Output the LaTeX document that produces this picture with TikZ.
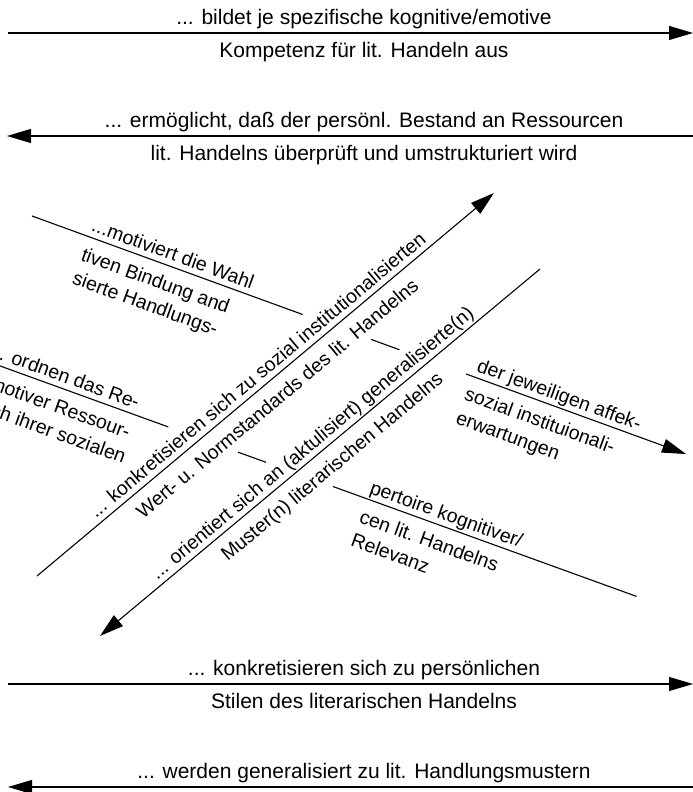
\documentclass[tikz,border=0pt]{standalone}
\usepackage{fontspec}
\setmainfont{Liberation Sans}
\usetikzlibrary{arrows.meta,calc}
\begin{document}
\begin{tikzpicture}[x=1pt,y=1pt,
  ln/.style={line width=1.1pt},
  arr/.style={ln,-{Triangle[length=24pt,width=14pt]}},
  rarr/.style={ln,{Triangle[length=24pt,width=14pt]}-},
  hlab/.style={inner sep=0pt,anchor=base,font=\fontsize{21}{25}\selectfont},
  dlab/.style={inner sep=0pt,anchor=base west,font=\fontsize{19.5}{25}\selectfont},
  mlab/.style={inner sep=0pt,anchor=base,font=\fontsize{19.5}{25}\selectfont}]
\useasboundingbox (0,0) rectangle (693,792);
\clip (0,0) rectangle (693,792);

% horizontal arrows
\coordinate (h1s) at (8,759);   \coordinate (h1e) at (693,759);
\coordinate (h2s) at (700,656); \coordinate (h2e) at (7,656);
\coordinate (h3s) at (8,108);   \coordinate (h3e) at (693,108);
\coordinate (h4s) at (700,5);   \coordinate (h4e) at (8,5);
\draw[arr] (h1s) -- (h1e);
\draw[arr] (h2s) -- (h2e);
\draw[arr] (h3s) -- (h3e);
\draw[arr] (h4s) -- (h4e);
\node[hlab] (t1a) at (364,767) {... bildet je spezifische kognitive/emotive};
\node[hlab] (t1b) at (364,734) {Kompetenz für lit. Handeln aus};
\node[hlab] (t2a) at (364,664) {... ermöglicht, daß der persönl. Bestand an Ressourcen};
\node[hlab] (t2b) at (364,631) {lit. Handelns überprüft und umstrukturiert wird};
\node[hlab] (t3a) at (364,116) {... konkretisieren sich zu persönlichen};
\node[hlab] (t3b) at (364,83) {Stilen des literarischen Handelns};
\node[hlab] (t4a) at (364,13) {... werden generalisiert zu lit. Handlungsmustern};

% broken line A
\coordinate (a1) at (32,576);
\coordinate (a2) at ($(a1)+(-20:288)$);
\coordinate (a3) at ($(a1)+(-20:361)$);
\coordinate (a4) at ($(a1)+(-20:391)$);
\coordinate (a5) at ($(a1)+(-20:462)$);
\coordinate (a6) at ($(a1)+(-20:696)$);
\draw[ln] (a1) -- (a2);
\draw[ln] (a3) -- (a4);
\draw[arr] (a5) -- (a6);
\begin{scope}[shift={(a1)},rotate=-20,transform shape]
\node[dlab] (la1) at (60,6) {...motiviert die Wahl};
\node[dlab] (la2) at (60,-25) {tiven Bindung and};
\node[dlab] (la3) at (60,-50) {sierte Handlungs-};
\node[dlab] (la4) at (470,6) {der jeweiligen affek-};
\node[dlab] (la5) at (468,-25) {sozial instituionali-};
\node[dlab] (la6) at (468,-50) {erwartungen};
\end{scope}

% broken line B
\coordinate (b0) at (0,426);
\coordinate (b1) at ($(b0)+(160:40)$);
\coordinate (b2) at ($(b0)+(-19.9:179)$);
\coordinate (b3) at ($(b0)+(-19.9:253)$);
\coordinate (b4) at ($(b0)+(-19.9:283)$);
\coordinate (b5) at ($(b0)+(-19.9:354)$);
\coordinate (b6) at ($(b0)+(-19.9:677)$);
\draw[ln] (b1) -- (b2);
\draw[ln] (b3) -- (b4);
\draw[ln] (b5) -- (b6);
\begin{scope}[shift={(b0)},rotate=-19.9,transform shape]
\node[dlab] (lb1) at (-15,6) {... ordnen das Re-};
\node[dlab] (lb2) at (-15,-25) {emotiver Ressour-};
\node[dlab] (lb3) at (-15,-50) {nach ihrer sozialen};
\node[dlab] (lb4) at (390,6) {pertoire kognitiver/};
\node[dlab] (lb5) at (390,-25) {cen lit. Handelns};
\node[dlab] (lb6) at (390,-50) {Relevanz};
\end{scope}

% diagonal arrow 1
\coordinate (d1s) at (37,216);
\coordinate (d1e) at (494,599);
\draw[arr] (d1s) -- (d1e);
\begin{scope}[shift={($(d1s)!0.5!(d1e)$)},rotate=39.96,transform shape]
\node[mlab] (ld1a) at (0,6) {... konkretisieren sich zu sozial institutionalisierten};
\node[mlab] (ld1b) at (0,-25) {Wert- u. Normstandards des lit. Handelns};
\end{scope}

% diagonal arrow 2
\coordinate (d2s) at (100,156);
\coordinate (d2e) at (540,523);
\draw[rarr] (d2s) -- (d2e);
\begin{scope}[shift={($(d2s)!0.5!(d2e)$)},rotate=39.83,transform shape]
\node[mlab] (ld2a) at (0,6) {... orientiert sich an (aktulisiert) generalisierte(n)};
\node[mlab] (ld2b) at (0,-25) {Muster(n) literarischen Handelns};
\end{scope}
\end{tikzpicture}
\end{document}
